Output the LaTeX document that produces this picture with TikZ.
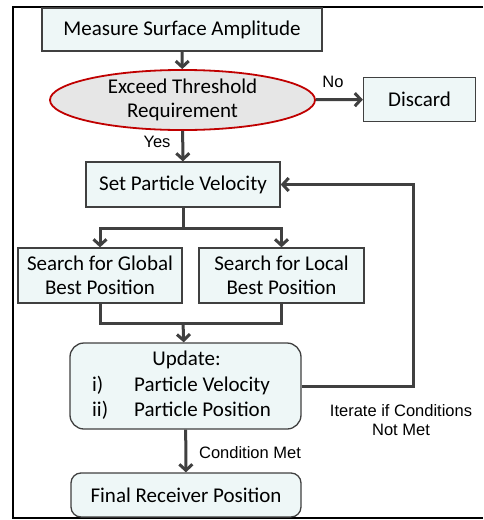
\documentclass[tikz,border=0pt]{standalone}
\usepackage{fontspec}
\setmainfont{Carlito}
\newfontfamily\lblfont{Liberation Sans}
\usepackage{xcolor}
\usetikzlibrary{shapes.geometric}
\usetikzlibrary{arrows.meta}
\usetikzlibrary{calc}

\definecolor{boxfill}{HTML}{EEF7F7}
\definecolor{boxline}{HTML}{404040}
\definecolor{ellfill}{HTML}{E6E6E6}
\definecolor{ellline}{HTML}{C00000}
\definecolor{flow}{HTML}{404040}

\begin{document}
\begin{tikzpicture}[x=1pt,y=-1pt,
    stepbox/.style={draw=boxline,line width=1.3pt,fill=boxfill,inner sep=0pt,
        align=center,font=\fontsize{21}{24.5}\selectfont},
    roundbox/.style={stepbox,rounded corners=10pt},
    decision/.style={ellipse,draw=ellline,line width=1.8pt,fill=ellfill,inner sep=0pt,
        align=center,font=\fontsize{21}{24.5}\selectfont},
    flowline/.style={draw=flow,line width=3pt},
    flowarrow/.style={flowline,-{Straight Barb[length=6pt,width=13pt]}},
    lbl/.style={font=\lblfont\fontsize{16.5}{19.5}\selectfont,align=center}]
            \useasboundingbox (0,0) rectangle (483,520);
            %%% FRAME %%%
            \draw[line width=2.5pt] (483,7) -- (13,7) -- (13,518) -- (483,518);

            %%% BOXES %%%
            \node[stepbox,minimum width=280pt,minimum height=43pt] (measure) at (182,29.5) {Measure Surface Amplitude};
            \node[decision,minimum width=265pt,minimum height=56pt] (thresh) at (182.5,100) {Exceed Threshold\\Requirement};
            \node[stepbox,minimum width=112pt,minimum height=44pt] (discard) at (419.5,99.5) {Discard};
            \node[stepbox,minimum width=194pt,minimum height=45pt] (setvel) at (183,184.5) {Set Particle Velocity};
            \node[stepbox,minimum width=164pt,minimum height=55pt] (global) at (100,275.5) {Search for Global\\Best Position};
            \node[stepbox,minimum width=165pt,minimum height=55pt] (local) at (281.5,275.5) {Search for Local\\Best Position};
            \node[roundbox,rounded corners=14pt,minimum width=231pt,minimum height=86pt,
                  font=\fontsize{21}{25.5}\selectfont] (update) at (185.5,386)
                {\hspace{-8pt}\begin{tabular}{@{}l@{\hspace{26pt}}l@{}}\multicolumn{2}{c}{\hspace{10pt}Update:}\\
                 i) & Particle Velocity\\ ii) & Particle Position\end{tabular}};
            \node[roundbox,minimum width=230pt,minimum height=44pt] (final) at (186,495) {Final Receiver Position};

            %%% COORDINATES %%%
            \coordinate (split) at (183,228);
            \coordinate (join) at (183,323);
            \coordinate (loop) at (413,386);

            %%% CONNECTORS %%%
            \draw[flowarrow] (measure) -- (thresh);
            \draw[flowarrow] (thresh) -- (discard);
            \draw[flowarrow] (thresh) -- (setvel);
            \draw[flowline] (setvel) -- (split);
            \draw[flowarrow] (split) -| (global);
            \draw[flowarrow] (split) -| (local);
            \draw[flowline] (global) |- (join) -| (local);
            \draw[flowarrow] (join) -- (update);
            \draw[flowarrow] (update) -- (final);
            \draw[flowarrow] (update) -- (loop) |- (setvel);

            %%% LABELS %%%
            \node[lbl] (no) at (333,82) {No};
            \node[lbl] (yes) at (157,142) {Yes};
            \node[lbl] (met) at (250,453) {Condition Met};
            \node[lbl] (iter) at (401,420) {Iterate if Conditions\\Not Met};
\end{tikzpicture}
\end{document}
